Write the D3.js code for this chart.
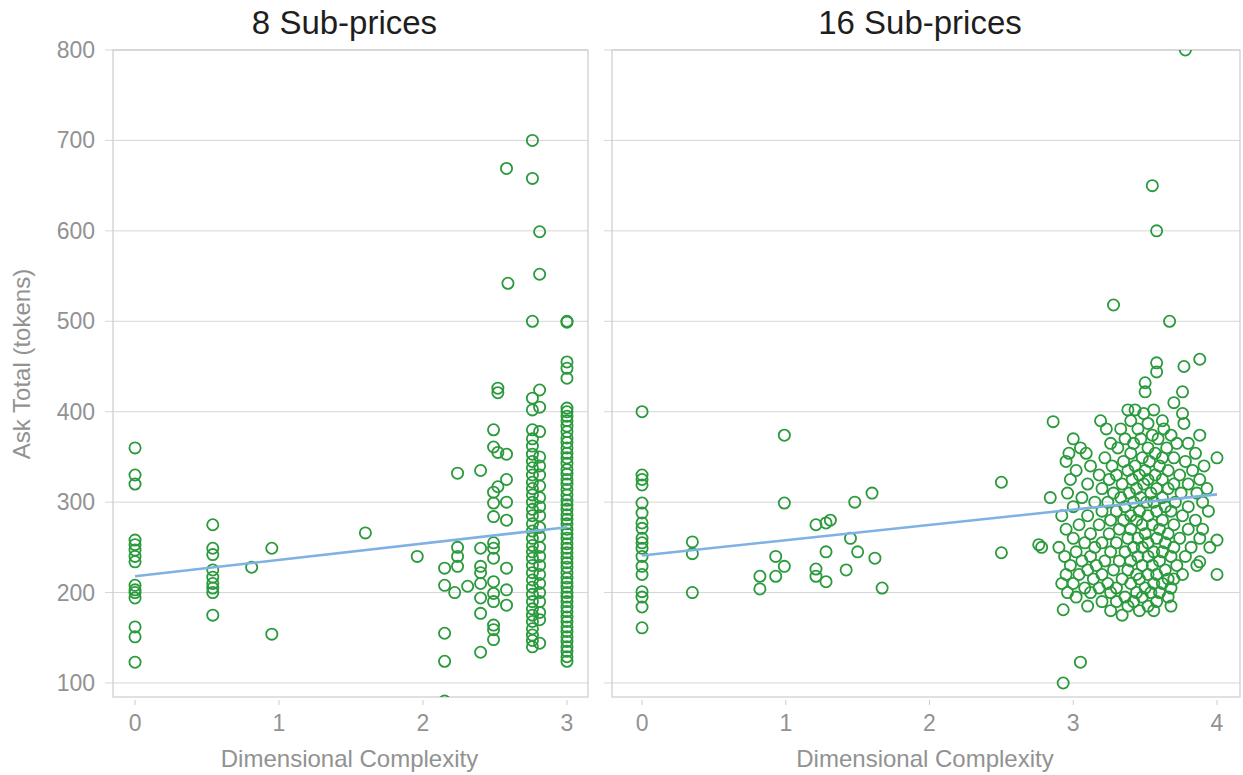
<!DOCTYPE html>
<html>
<head>
<meta charset="utf-8">
<script src="https://cdn.jsdelivr.net/npm/d3@7"></script>
<style>
  html, body { margin: 0; padding: 0; background: #fff; }
  svg { display: block; font-family: "Liberation Sans", Arial, sans-serif; }
</style>
</head>
<body>
<svg id="chart" width="1243" height="775"></svg>
<script>
// Panel titles and axis labels
const panelTitles = ["8 Sub-prices", "16 Sub-prices"];
const xAxisTitle = "Dimensional Complexity";
const yAxisTitle = "Ask Total (tokens)";

// Tick values
const yTicks = [100, 200, 300, 400, 500, 600, 700, 800];
const xTicksLeft = [0, 1, 2, 3];
const xTicksRight = [0, 1, 2, 3, 4];

// Linear fits per panel: [intercept, slope]
const fitLeft = [218, 18.1];
const fitRight = [241, 16.9];

// 8 sub-prices: [complexity, ask total]
const leftPoints = [
  [0, 360], [0, 330], [0, 320], [0, 258], [0, 253], [0, 247], [0, 240], [0, 234],
  [0, 208], [0, 203], [0, 200], [0, 194], [0, 162], [0, 151], [0, 123],
  [0.54, 275], [0.54, 249], [0.54, 242], [0.54, 225], [0.54, 217], [0.54, 210],
  [0.54, 205], [0.54, 200], [0.54, 175],
  [0.81, 228], [0.95, 249], [0.95, 154], [1.6, 266], [1.96, 240],
  [2.15, 227], [2.15, 208], [2.15, 155], [2.15, 124], [2.15, 80],
  [2.24, 332], [2.24, 250], [2.24, 240], [2.24, 229], [2.22, 200], [2.31, 207],
  [2.40, 335], [2.40, 249], [2.40, 229], [2.40, 222], [2.40, 210], [2.40, 194],
  [2.40, 177], [2.40, 134],
  [2.49, 380], [2.49, 361], [2.49, 311], [2.49, 299], [2.49, 284], [2.49, 255],
  [2.49, 249], [2.49, 238], [2.49, 212], [2.49, 199], [2.49, 190], [2.49, 164],
  [2.49, 159], [2.49, 148],
  [2.52, 426], [2.52, 421], [2.52, 355], [2.52, 317],
  [2.58, 669], [2.59, 542], [2.58, 353], [2.58, 325], [2.58, 300], [2.58, 280],
  [2.58, 227], [2.58, 203], [2.58, 186],
  [2.76, 700], [2.76, 658], [2.76, 500], [2.76, 415], [2.76, 402], [2.76, 380],
  [2.76, 370], [2.76, 362], [2.76, 353], [2.76, 345], [2.76, 338], [2.76, 330],
  [2.76, 322], [2.76, 315], [2.76, 308], [2.76, 300], [2.76, 292], [2.76, 285],
  [2.76, 276], [2.76, 268], [2.76, 260], [2.76, 252], [2.76, 245], [2.76, 238],
  [2.76, 230], [2.76, 222], [2.76, 214], [2.76, 206], [2.76, 198], [2.76, 190],
  [2.76, 182], [2.76, 175], [2.76, 168], [2.76, 160], [2.76, 153], [2.76, 147],
  [2.76, 140],
  [2.81, 599], [2.81, 552], [2.81, 424], [2.81, 405], [2.81, 378], [2.81, 350],
  [2.81, 340], [2.81, 330], [2.81, 318], [2.81, 305], [2.81, 295], [2.81, 285],
  [2.81, 272], [2.81, 262], [2.81, 250], [2.81, 240], [2.81, 230], [2.81, 220],
  [2.81, 210], [2.81, 200], [2.81, 190], [2.81, 178], [2.81, 170], [2.81, 144],
  [3, 500], [3, 499], [3, 455], [3, 448], [3, 437], [3, 404], [3, 400], [3, 395],
  [3, 390], [3, 384], [3, 378], [3, 371], [3, 366], [3, 360], [3, 354], [3, 349],
  [3, 343], [3, 336], [3, 331], [3, 325], [3, 320], [3, 314], [3, 308], [3, 302],
  [3, 297], [3, 292], [3, 286], [3, 281], [3, 276], [3, 270], [3, 265], [3, 260],
  [3, 254], [3, 249], [3, 244], [3, 238], [3, 233], [3, 228], [3, 222], [3, 216],
  [3, 211], [3, 206], [3, 200], [3, 195], [3, 190], [3, 184], [3, 179], [3, 173],
  [3, 168], [3, 162], [3, 157], [3, 151], [3, 146], [3, 140], [3, 135], [3, 129],
  [3, 124]
];

// 16 sub-prices: [complexity, ask total]
const rightPoints = [
  [0, 400], [0, 330], [0, 325], [0, 319], [0, 299], [0, 288], [0, 277], [0, 271],
  [0, 260], [0, 255], [0, 249], [0, 240], [0, 229], [0, 220], [0, 201], [0, 195],
  [0, 184], [0, 161],
  [0.35, 256], [0.35, 243], [0.35, 200], [0.82, 218], [0.82, 204], [0.93, 240],
  [0.93, 218], [0.99, 374], [0.99, 299], [0.99, 229],
  [1.21, 275], [1.21, 226], [1.21, 218], [1.28, 277], [1.28, 245], [1.28, 212],
  [1.31, 280], [1.45, 260], [1.48, 300], [1.42, 225], [1.50, 245], [1.60, 310],
  [1.62, 238], [1.67, 205],
  [2.50, 322], [2.50, 244], [2.78, 250], [2.76, 253], [2.84, 305], [2.86, 389],
  [2.93, 100], [2.93, 181], [3.05, 123],
  [3.28, 518], [3.55, 650], [3.58, 600], [3.67, 500], [3.78, 800],
  [3.58, 454], [3.58, 444], [3.77, 450], [3.88, 458], [3.50, 432], [3.50, 422],
  [3.76, 422], [3.88, 374], [4.0, 349], [4.0, 258], [4.0, 220], [3.88, 234],
  [3.70, 410], [3.38, 402], [3.56, 402], [3.43, 402], [3.49, 398], [3.76, 398],
  [3.19, 390], [3.62, 390], [3.40, 390], [3.77, 387], [3.52, 387],
  [3.23, 381], [3.63, 381], [3.45, 381], [3.33, 381], [3.55, 374], [3.68, 374],
  [3.00, 370], [3.36, 370], [3.47, 370], [3.59, 370],
  [3.26, 365], [3.72, 365], [3.42, 365], [3.80, 365],
  [3.05, 360], [3.52, 360], [3.65, 360], [3.31, 360],
  [2.97, 354], [3.09, 354], [3.40, 354], [3.57, 354], [3.85, 354],
  [3.22, 349], [3.48, 349], [3.70, 349], [3.62, 349],
  [2.95, 345], [3.35, 345], [3.53, 345], [3.78, 345],
  [3.12, 340], [3.43, 340], [3.60, 340], [3.91, 340], [3.27, 340],
  [3.02, 335], [3.38, 335], [3.50, 335], [3.66, 335], [3.83, 335],
  [3.18, 330], [3.30, 330], [3.46, 330], [3.57, 330], [3.74, 330],
  [2.98, 325], [3.25, 325], [3.41, 325], [3.62, 325], [3.88, 325], [3.52, 325],
  [3.10, 320], [3.34, 320], [3.49, 320], [3.70, 320], [3.80, 320],
  [3.20, 315], [3.44, 315], [3.58, 315], [3.66, 315], [3.93, 315],
  [2.96, 310], [3.28, 310], [3.39, 310], [3.54, 310], [3.75, 310], [3.86, 310],
  [3.06, 305], [3.47, 305], [3.62, 305], [3.33, 305],
  [3.15, 300], [3.24, 300], [3.42, 300], [3.56, 300], [3.71, 300], [3.90, 300], [3.51, 300],
  [3.00, 295], [3.36, 295], [3.64, 295], [3.80, 295],
  [3.20, 290], [3.30, 290], [3.46, 290], [3.58, 290], [3.68, 290], [3.94, 290],
  [2.92, 285], [3.10, 285], [3.40, 285], [3.52, 285], [3.76, 285],
  [3.26, 280], [3.44, 280], [3.62, 280], [3.85, 280], [3.35, 280],
  [3.04, 275], [3.18, 275], [3.55, 275], [3.70, 275], [3.48, 275],
  [2.95, 270], [3.32, 270], [3.40, 270], [3.60, 270], [3.80, 270], [3.90, 270],
  [3.12, 265], [3.25, 265], [3.50, 265], [3.66, 265],
  [3.00, 260], [3.38, 260], [3.45, 260], [3.58, 260], [3.74, 260], [3.88, 260],
  [3.08, 255], [3.20, 255], [3.30, 255], [3.52, 255], [3.64, 255],
  [2.90, 250], [3.15, 250], [3.42, 250], [3.48, 250], [3.70, 250], [3.82, 250], [3.95, 250],
  [3.02, 245], [3.26, 245], [3.36, 245], [3.56, 245], [3.62, 245],
  [2.94, 240], [3.12, 240], [3.45, 240], [3.52, 240], [3.68, 240], [3.78, 240],
  [3.06, 235], [3.22, 235], [3.32, 235], [3.40, 235], [3.60, 235],
  [2.98, 230], [3.16, 230], [3.48, 230], [3.55, 230], [3.72, 230], [3.86, 230],
  [3.10, 225], [3.28, 225], [3.38, 225], [3.64, 225],
  [2.95, 220], [3.04, 220], [3.20, 220], [3.44, 220], [3.52, 220], [3.58, 220], [3.76, 220],
  [3.14, 215], [3.34, 215], [3.46, 215], [3.66, 215], [3.70, 215],
  [2.92, 210], [3.00, 210], [3.24, 210], [3.40, 210], [3.56, 210], [3.62, 210],
  [3.08, 205], [3.18, 205], [3.30, 205], [3.50, 205], [3.68, 205],
  [2.96, 200], [3.12, 200], [3.26, 200], [3.44, 200], [3.54, 200], [3.60, 200],
  [3.02, 195], [3.36, 195], [3.48, 195], [3.66, 195],
  [3.20, 190], [3.30, 190], [3.42, 190], [3.58, 190],
  [3.10, 185], [3.38, 185], [3.52, 185], [3.68, 185],
  [3.26, 180], [3.46, 180], [3.56, 180], [3.34, 175]
];

// Layout
const svg = d3.select("#chart");
const plotTop = 50, plotBottom = 697;
const pointColor = "#2a9a3c";
const fitColor = "#7fb1e3";
const gridColor = "#d6d6d6";
const frameColor = "#cccccc";
const textGray = "#929292";

const y = d3.scaleLinear().domain([84.5, 800]).range([plotBottom, plotTop]);

const panels = [
  { title: panelTitles[0], x0: 113, x1: 588, domain: [-0.153, 3.146], ticks: xTicksLeft,
    points: leftPoints, fit: fitLeft, fitMax: 3, yLabels: true },
  { title: panelTitles[1], x0: 612, x1: 1240, domain: [-0.209, 4.16], ticks: xTicksRight,
    points: rightPoints, fit: fitRight, fitMax: 4, yLabels: false }
];

const defs = svg.append("defs");

panels.forEach((p, i) => {
  const x = d3.scaleLinear().domain(p.domain).range([p.x0, p.x1]);
  const g = svg.append("g");

  // clip region for the plot area
  defs.append("clipPath").attr("id", "clip" + i)
    .append("rect")
    .attr("x", p.x0).attr("y", plotTop)
    .attr("width", p.x1 - p.x0).attr("height", plotBottom - plotTop);

  // horizontal gridlines with outward tick stubs
  g.append("g").selectAll("line").data(yTicks).join("line")
    .attr("x1", p.x0 - 8).attr("x2", p.x1)
    .attr("y1", d => y(d)).attr("y2", d => y(d))
    .attr("stroke", gridColor).attr("stroke-width", 1);

  // frame
  g.append("rect")
    .attr("x", p.x0).attr("y", plotTop)
    .attr("width", p.x1 - p.x0).attr("height", plotBottom - plotTop)
    .attr("fill", "none").attr("stroke", frameColor).attr("stroke-width", 1.2);

  // y tick labels (first panel only)
  if (p.yLabels) {
    g.append("g").selectAll("text").data(yTicks).join("text")
      .attr("x", p.x0 - 18).attr("y", d => y(d))
      .attr("dy", "0.35em").attr("text-anchor", "end")
      .attr("font-size", 23).attr("fill", textGray)
      .text(d => d);
  }

  // x ticks and labels
  const xt = g.append("g").selectAll("g").data(p.ticks).join("g");
  xt.append("line")
    .attr("x1", d => x(d)).attr("x2", d => x(d))
    .attr("y1", plotBottom + 3).attr("y2", plotBottom + 8)
    .attr("stroke", frameColor).attr("stroke-width", 1);
  xt.append("text")
    .attr("x", d => x(d)).attr("y", plotBottom + 34)
    .attr("text-anchor", "middle")
    .attr("font-size", 23).attr("fill", textGray)
    .text(d => d);

  // x axis title
  g.append("text")
    .attr("x", (p.x0 + p.x1) / 2 - 1).attr("y", 767)
    .attr("text-anchor", "middle")
    .attr("font-size", 24).attr("fill", textGray)
    .text(xAxisTitle);

  // panel title
  g.append("text")
    .attr("x", (p.x0 + p.x1) / 2 - 6).attr("y", 34)
    .attr("text-anchor", "middle")
    .attr("font-size", 33).attr("fill", "#1e1e1e")
    .text(p.title);

  const plot = g.append("g").attr("clip-path", `url(#clip${i})`);

  // observations
  plot.append("g").selectAll("circle").data(p.points).join("circle")
    .attr("cx", d => x(d[0])).attr("cy", d => y(d[1]))
    .attr("r", 5.6)
    .attr("fill", "none")
    .attr("stroke", pointColor).attr("stroke-width", 1.8);

  // fitted trend
  const line = d3.line().x(d => x(d)).y(d => y(p.fit[0] + p.fit[1] * d));
  plot.append("path")
    .datum([0, p.fitMax])
    .attr("d", line)
    .attr("fill", "none")
    .attr("stroke", fitColor).attr("stroke-width", 2.6);
});

// y axis title
svg.append("text")
  .attr("transform", "translate(30,364) rotate(-90)")
  .attr("text-anchor", "middle")
  .attr("font-size", 24).attr("fill", textGray)
  .text(yAxisTitle);
</script>
</body>
</html>
